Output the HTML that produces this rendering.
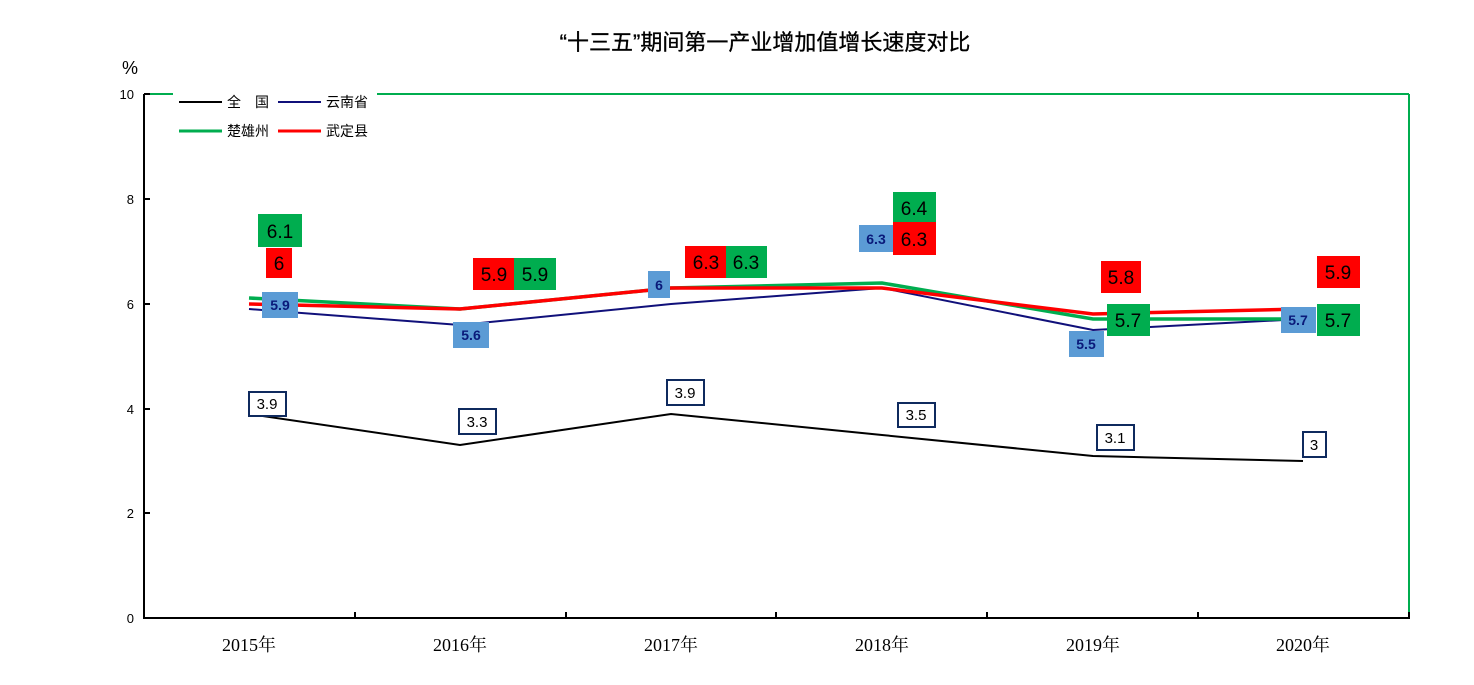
<!DOCTYPE html>
<html><head><meta charset="utf-8"><style>
html,body{margin:0;padding:0;background:#fff;width:1474px;height:685px;overflow:hidden}
svg text{font-family:"Liberation Sans","Noto Sans CJK SC",sans-serif}
svg text.serif{font-family:"Liberation Serif","Noto Serif CJK SC",serif;font-size:18px}
.g{fill:#00ad4f}.r{fill:#ff0000}.b{fill:#5b9bd5}
.t1{font-size:19px;fill:#000}
.tb{font-size:14px;font-weight:bold;fill:#0a1a7a}
.tk{font-size:15px;fill:#000}
</style></head><body>
<svg width="1474" height="685" xmlns="http://www.w3.org/2000/svg">
<text x="765" y="50" text-anchor="middle" style="font-size:22px;stroke:#000;stroke-width:0.3">“十三五”期间第一产业增加值增长速度对比</text>
<text x="122" y="74" style="font-size:18px">%</text>
<line x1="144" y1="94" x2="173" y2="94" stroke="#00ad4f" stroke-width="2"/>
<line x1="377" y1="94" x2="1409" y2="94" stroke="#00ad4f" stroke-width="2"/>
<line x1="1409" y1="94" x2="1409" y2="618" stroke="#00ad4f" stroke-width="2"/>
<line x1="144" y1="94" x2="144" y2="619" stroke="#000" stroke-width="2"/>
<line x1="143" y1="618" x2="1410" y2="618" stroke="#000" stroke-width="2"/>
<g stroke="#000" stroke-width="2">
<line x1="144" y1="94" x2="150" y2="94"/><line x1="144" y1="199" x2="150" y2="199"/><line x1="144" y1="304" x2="150" y2="304"/><line x1="144" y1="409" x2="150" y2="409"/><line x1="144" y1="513" x2="150" y2="513"/>
<line x1="355" y1="612" x2="355" y2="618"/><line x1="566" y1="612" x2="566" y2="618"/><line x1="776" y1="612" x2="776" y2="618"/><line x1="987" y1="612" x2="987" y2="618"/><line x1="1198" y1="612" x2="1198" y2="618"/><line x1="1409" y1="612" x2="1409" y2="618"/>
</g>
<g style="font-size:13px" text-anchor="end">
<text x="134" y="99">10</text><text x="134" y="204">8</text><text x="134" y="309">6</text><text x="134" y="414">4</text><text x="134" y="518">2</text><text x="134" y="623">0</text>
</g>
<g text-anchor="middle">
<text class="serif" x="249" y="651">2015年</text><text class="serif" x="460" y="651">2016年</text><text class="serif" x="671" y="651">2017年</text><text class="serif" x="882" y="651">2018年</text><text class="serif" x="1093" y="651">2019年</text><text class="serif" x="1303" y="651">2020年</text>
</g>
<line x1="179" y1="102" x2="222" y2="102" stroke="#000" stroke-width="2"/>
<text x="227" y="107" style="font-size:14px">全　国</text>
<line x1="278" y1="102" x2="321" y2="102" stroke="#10107a" stroke-width="2"/>
<text x="326" y="107" style="font-size:14px">云南省</text>
<line x1="179" y1="131" x2="222" y2="131" stroke="#00ad4f" stroke-width="3"/>
<text x="227" y="136" style="font-size:14px">楚雄州</text>
<line x1="278" y1="131" x2="321" y2="131" stroke="#ff0000" stroke-width="3"/>
<text x="326" y="136" style="font-size:14px">武定县</text>
<polyline fill="none" stroke="#000" stroke-width="2" points="249,414 460,445 671,414 882,435 1093,456 1303,461"/>
<polyline fill="none" stroke="#10107a" stroke-width="2" points="249,309 460,325 671,304 882,288 1093,330 1303,319"/>
<polyline fill="none" stroke="#00ad4f" stroke-width="3.5" points="249,298 460,309 671,288 882,283 1093,319 1303,319"/>
<polyline fill="none" stroke="#ff0000" stroke-width="3.5" points="249,304 460,309 671,288 882,288 1093,314 1303,309"/>
<rect class="g" x="258" y="214" width="44" height="33"/><text class="t1" x="280" y="238" text-anchor="middle">6.1</text>
<rect class="r" x="266" y="248" width="26" height="30"/><text class="t1" x="279" y="270" text-anchor="middle">6</text>
<rect class="b" x="262" y="292" width="36" height="26"/><text class="tb" x="280" y="310" text-anchor="middle">5.9</text>
<rect x="249" y="392" width="37" height="24" fill="#fff" stroke="#0f2a5e" stroke-width="2"/><text class="tk" x="267" y="409" text-anchor="middle">3.9</text>
<rect class="r" x="473" y="258" width="41" height="32"/><text class="t1" x="494" y="281" text-anchor="middle">5.9</text>
<rect class="g" x="514" y="258" width="42" height="32"/><text class="t1" x="535" y="281" text-anchor="middle">5.9</text>
<rect class="b" x="453" y="322" width="36" height="26"/><text class="tb" x="471" y="340" text-anchor="middle">5.6</text>
<rect x="459" y="409" width="37" height="25" fill="#fff" stroke="#0f2a5e" stroke-width="2"/><text class="tk" x="477" y="427" text-anchor="middle">3.3</text>
<rect class="b" x="648" y="271" width="22" height="27"/><text class="tb" x="659" y="290" text-anchor="middle">6</text>
<rect class="r" x="685" y="246" width="41" height="32"/><text class="t1" x="706" y="269" text-anchor="middle">6.3</text>
<rect class="g" x="726" y="246" width="41" height="32"/><text class="t1" x="746" y="269" text-anchor="middle">6.3</text>
<rect x="667" y="380" width="37" height="25" fill="#fff" stroke="#0f2a5e" stroke-width="2"/><text class="tk" x="685" y="398" text-anchor="middle">3.9</text>
<rect class="g" x="893" y="192" width="43" height="30"/><text class="t1" x="914" y="215" text-anchor="middle">6.4</text>
<rect class="r" x="893" y="222" width="43" height="33"/><text class="t1" x="914" y="246" text-anchor="middle">6.3</text>
<rect class="b" x="859" y="225" width="34" height="27"/><text class="tb" x="876" y="244" text-anchor="middle">6.3</text>
<rect x="898" y="403" width="37" height="24" fill="#fff" stroke="#0f2a5e" stroke-width="2"/><text class="tk" x="916" y="420" text-anchor="middle">3.5</text>
<rect class="r" x="1101" y="261" width="40" height="32"/><text class="t1" x="1121" y="284" text-anchor="middle">5.8</text>
<rect class="g" x="1107" y="304" width="43" height="32"/><text class="t1" x="1128" y="327" text-anchor="middle">5.7</text>
<rect class="b" x="1069" y="331" width="35" height="26"/><text class="tb" x="1086" y="349" text-anchor="middle">5.5</text>
<rect x="1097" y="425" width="37" height="25" fill="#fff" stroke="#0f2a5e" stroke-width="2"/><text class="tk" x="1115" y="443" text-anchor="middle">3.1</text>
<rect class="r" x="1317" y="256" width="43" height="32"/><text class="t1" x="1338" y="279" text-anchor="middle">5.9</text>
<rect class="g" x="1317" y="304" width="43" height="32"/><text class="t1" x="1338" y="327" text-anchor="middle">5.7</text>
<rect class="b" x="1281" y="307" width="35" height="26"/><text class="tb" x="1298" y="325" text-anchor="middle">5.7</text>
<rect x="1303" y="432" width="23" height="25" fill="#fff" stroke="#0f2a5e" stroke-width="2"/><text class="tk" x="1314" y="450" text-anchor="middle">3</text>
</svg>
</body></html>
